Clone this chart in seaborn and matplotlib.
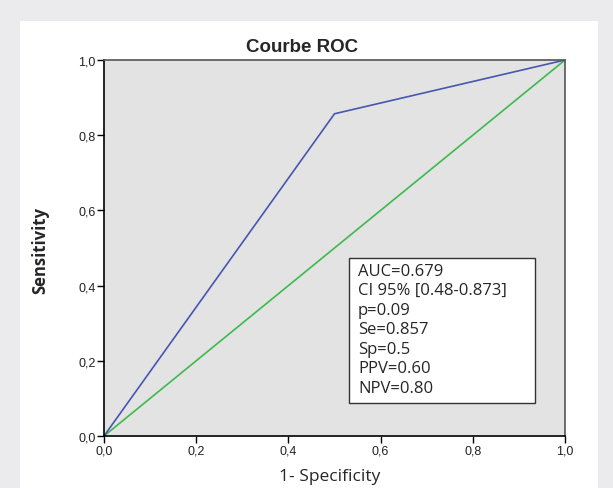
import pandas as pd
import matplotlib.pyplot as plt
import seaborn as sns
from matplotlib.ticker import FuncFormatter
from matplotlib.patches import Rectangle

# ROC curve points
fpr = [0.0, 0.5, 1.0]
tpr = [0.0, 0.857, 1.0]

# reference diagonal
ref_x = [0.0, 1.0]
ref_y = [0.0, 1.0]

ticks = [0.0, 0.2, 0.4, 0.6, 0.8, 1.0]

stats_lines = ["AUC=0.679", "CI 95% [0.48-0.873]", "p=0.09", "Se=0.857",
               "Sp=0.5", "PPV=0.60", "NPV=0.80"]

roc_df = pd.DataFrame({'fpr': fpr, 'tpr': tpr})
ref_df = pd.DataFrame({'x': ref_x, 'y': ref_y})

sns.set_style("white")
plt.rcParams['font.family'] = ['Liberation Sans', 'DejaVu Sans']

fig = plt.figure(figsize=(6.13, 4.89), dpi=100, facecolor='#ebebed')
# white panel
fig.patches.append(Rectangle((20 / 613, 0), 578 / 613, 1 - 22 / 489,
                             transform=fig.transFigure, facecolor='white',
                             edgecolor='none', zorder=-10))

ax = fig.add_axes([104 / 613, 1 - 437 / 489, 461 / 613, 376 / 489])
ax.set_facecolor('#e3e3e3')

sns.lineplot(data=ref_df, x='x', y='y', ax=ax, color='#3cba4c', linewidth=1.2)
sns.lineplot(data=roc_df, x='fpr', y='tpr', ax=ax, color='#4657b0', linewidth=1.2,
             sort=False)

ax.set_xlim(0, 1)
ax.set_ylim(0, 1)
ax.set_xticks(ticks)
ax.set_yticks(ticks)
fmt = FuncFormatter(lambda v, p: f"{v:.1f}".replace('.', ','))
ax.xaxis.set_major_formatter(fmt)
ax.yaxis.set_major_formatter(fmt)
ax.tick_params(axis='both', direction='out', length=5, width=1, color='black',
               labelsize=9, pad=1, bottom=True, left=True, labelcolor='#222222')

for side in ['left', 'bottom']:
    ax.spines[side].set_color('black')
    ax.spines[side].set_linewidth(1.2)
for side in ['top', 'right']:
    ax.spines[side].set_color('#555555')
    ax.spines[side].set_linewidth(1.2)

fig.text(302 / 613, 1 - 48 / 489, "Courbe ROC", fontsize=13.5, fontweight='bold',
         ha='center', va='center')
ax.set_xlabel("1- Specificity", fontsize=12.5, family=['Open Sans', 'DejaVu Sans'],
              labelpad=8)
ax.xaxis.set_label_coords(0.49, -0.085)
ax.set_ylabel("Sensitivity", fontsize=12, fontweight='bold',
              family=['Open Sans', 'DejaVu Sans'])
ax.yaxis.set_label_coords(-0.118, 0.495)

# statistics box
ax.add_patch(Rectangle((0.531, 0.088), 0.404, 0.385, transform=ax.transAxes,
                       facecolor='white', edgecolor='#333333', linewidth=1, zorder=3))
ax.text(0.551, 0.461, "\n".join(stats_lines), transform=ax.transAxes,
        fontsize=12, family=['Open Sans', 'DejaVu Sans'], va='top', ha='left',
        linespacing=1.29, zorder=4)

fig.savefig('out.png', dpi=100, facecolor=fig.get_facecolor())
